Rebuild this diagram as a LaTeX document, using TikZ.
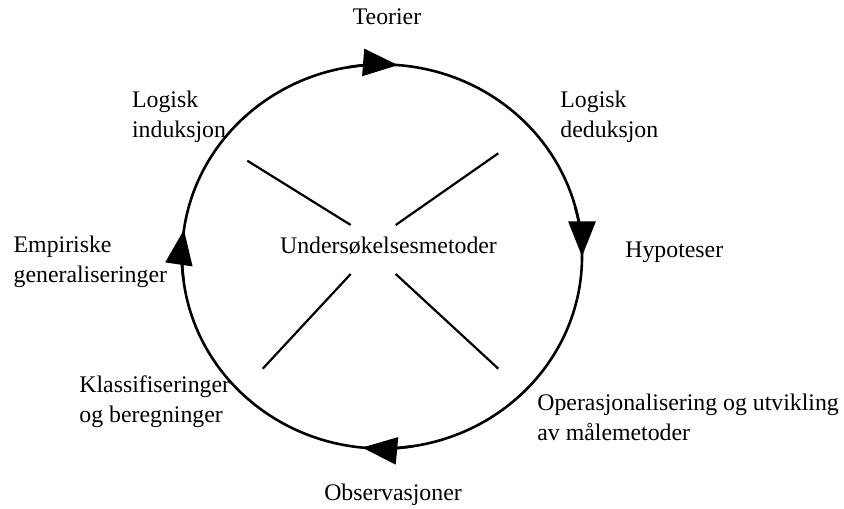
\documentclass[tikz,border=0pt]{standalone}
\usepackage{fontspec}
\setmainfont{Liberation Serif}
\usepackage{tikz}
\usetikzlibrary{arrows.meta}

\begin{document}
\begin{tikzpicture}[x=0.5pt,y=0.5pt,
        every node/.style={font=\fontsize{11.9}{15}\selectfont, inner sep=0pt, align=left},
        ring/.style={line width=1.3pt},
        pil/.style={line width=1.3pt, -{Triangle[length=17.5pt,width=13.5pt]}},
        kryss/.style={line width=1.1pt}]
        \useasboundingbox (0,0) rectangle (844,508);
        \coordinate (midt) at (382,251.5);
        % sirkelen med piler
        \draw[ring] (midt) ellipse [x radius=200, y radius=192];
        \draw[pil] (midt) ++(100:200 and 192) arc[start angle=100, end angle=85.4, x radius=200, y radius=192];
        \draw[pil] (midt) ++(15:200 and 192) arc[start angle=15, end angle=0, x radius=200, y radius=192];
        \draw[pil] (midt) ++(279:200 and 192) arc[start angle=279, end angle=264.3, x radius=200, y radius=192];
        \draw[pil] (midt) ++(187:200 and 192) arc[start angle=187, end angle=172, x radius=200, y radius=192];
        % krysset
        \draw[kryss] (247.3,347.3) -- (350.7,283);
        \draw[kryss] (498.3,354.7) -- (395.7,283);
        \draw[kryss] (350.7,234) -- (262.7,139.3);
        \draw[kryss] (395.7,234) -- (498.3,139.3);
        % tekster (base = siste linje)
        \node[anchor=base] (teorier) at (387,483) {Teorier};
        \node[anchor=base west] (induksjon) at (131.7,370) {Logisk\\induksjon};
        \node[anchor=base west] (deduksjon) at (560,370) {Logisk\\deduksjon};
        \node[anchor=base west] (hypoteser) at (625,250) {Hypoteser};
        \node[anchor=base] (metoder) at (388.5,254.7) {Undersøkelsesmetoder};
        \node[anchor=base west] (empiriske) at (13.3,225) {Empiriske\\generaliseringer};
        \node[anchor=base west] (klassifisering) at (79,85) {Klassifiseringer\\og beregninger};
        \node[anchor=base west] (operasjon) at (537,68) {Operasjonalisering og utvikling\\av målemetoder};
        \node[anchor=base] (observasjoner) at (393,8) {Observasjoner};
\end{tikzpicture}
\end{document}
